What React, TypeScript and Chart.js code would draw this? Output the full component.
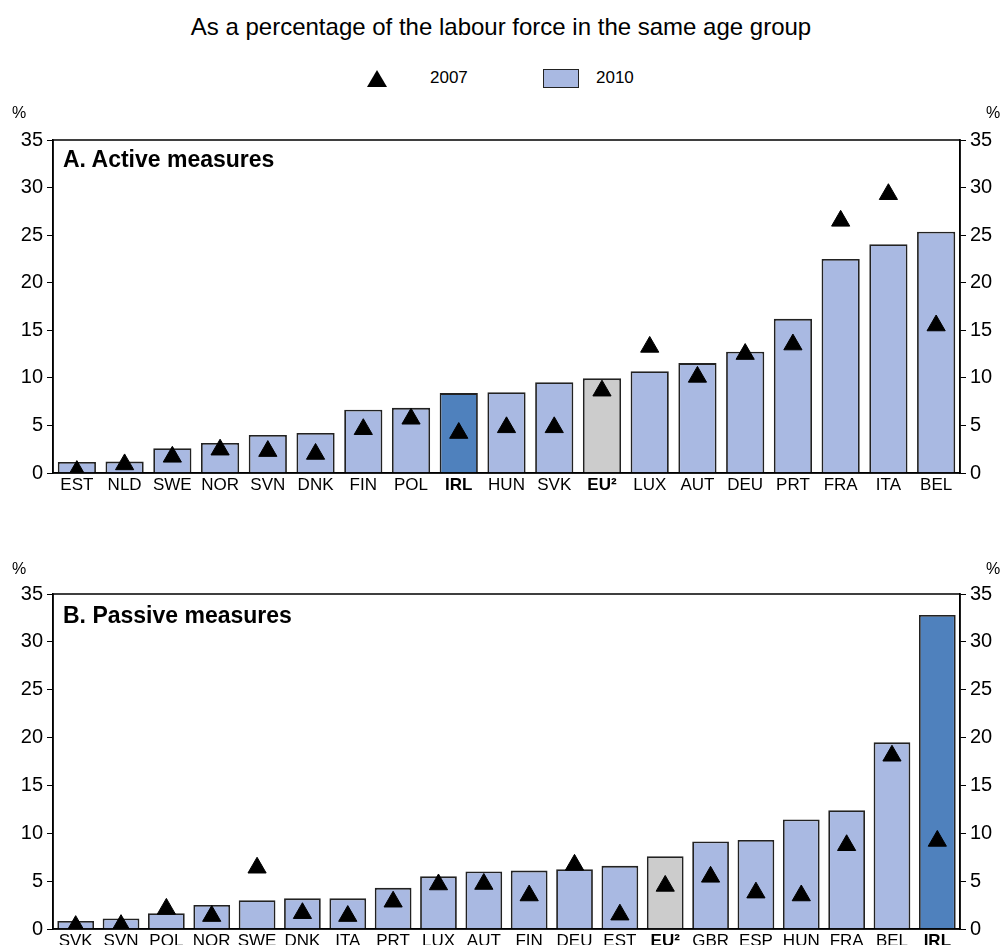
import { useEffect, useRef } from 'react';
import { Chart, registerables } from 'chart.js';

Chart.register(...registerables);

const activeLabels = ['EST', 'NLD', 'SWE', 'NOR', 'SVN', 'DNK', 'FIN', 'POL', 'IRL', 'HUN', 'SVK', 'EU²', 'LUX', 'AUT', 'DEU', 'PRT', 'FRA', 'ITA', 'BEL'];
const active2010 = [1.15, 1.2, 2.6, 3.15, 4.0, 4.2, 6.65, 6.85, 8.4, 8.5, 9.55, 9.95, 10.7, 11.55, 12.75, 16.2, 22.5, 24.05, 25.35];
const active2007 = [0.2, 0.9, 1.7, 2.45, 2.3, 2.0, 4.6, 5.7, 4.2, 4.8, 4.8, 8.65, 13.25, 10.1, 12.5, 13.5, 26.5, 29.3, 15.5];

const passiveLabels = ['SVK', 'SVN', 'POL', 'NOR', 'SWE', 'DNK', 'ITA', 'PRT', 'LUX', 'AUT', 'FIN', 'DEU', 'EST', 'EU²', 'GBR', 'ESP', 'HUN', 'FRA', 'BEL', 'IRL'];
const passive2010 = [0.84, 1.1, 1.64, 2.5, 3.0, 3.2, 3.2, 4.3, 5.5, 6.0, 6.1, 6.25, 6.6, 7.6, 9.15, 9.3, 11.45, 12.4, 19.5, 32.8];
const passive2007 = [0.3, 0.4, 2.1, 1.35, 6.4, 1.65, 1.35, 2.85, 4.65, 4.7, 3.5, 6.7, 1.5, 4.5, 5.45, 3.8, 3.5, 8.75, 18.1, 9.2];

const yTicks = [0, 5, 10, 15, 20, 25, 30, 35];
const boldLabels = ['IRL', 'EU²'];

const FONT = "Arial, 'Liberation Sans', sans-serif";

const barColour = (label: string) => {
    if (label === 'IRL') return '#4F81BD';
    if (label === 'EU²') return '#CCCCCC';
    return '#A9B9E2';
};

// box round the plot area
const framePlugin = {
    id: 'frame',
    afterDraw(chart: any) {
        const { ctx, chartArea } = chart;
        ctx.save();
        ctx.strokeStyle = '#000';
        ctx.lineWidth = 1.5;
        ctx.strokeRect(chartArea.left, chartArea.top, chartArea.right - chartArea.left, chartArea.bottom - chartArea.top);
        ctx.restore();
    },
};

const PanelChart = ({ labels, bars, markers, padTop, xHeight, barPct, height }: {
    labels: string[]; bars: number[]; markers: number[]; padTop: number; xHeight: number; barPct: number; height: number;
}) => {
    const chartRef = useRef<HTMLCanvasElement | null>(null);
    const chartInstance = useRef<Chart | null>(null);

    useEffect(() => {
        if (!chartRef.current) return;
        if (chartInstance.current) chartInstance.current.destroy();

        const yAxis = (position: 'left' | 'right', width: number) => ({
            type: 'linear' as const,
            position,
            min: 0,
            max: 35,
            afterBuildTicks: (s: any) => { s.ticks = yTicks.map((v) => ({ value: v })); },
            afterFit: (s: any) => { s.width = width; },
            grid: { display: true, drawOnChartArea: false, drawTicks: true, tickLength: 6, color: '#000', lineWidth: 1 },
            border: { display: true, color: '#000', width: 1.5 },
            ticks: { color: '#000', padding: 4, font: { family: FONT, size: 20 } },
        });

        chartInstance.current = new Chart(chartRef.current, {
            type: 'bar',
            data: {
                labels,
                datasets: [
                    {
                        type: 'line',
                        label: '2007',
                        data: markers,
                        showLine: false,
                        pointStyle: 'triangle',
                        pointRadius: 10.5,
                        pointBackgroundColor: '#000',
                        pointBorderColor: '#000',
                        pointBorderWidth: 1,
                        order: 0,
                    },
                    {
                        type: 'bar',
                        label: '2010',
                        data: bars,
                        backgroundColor: labels.map(barColour),
                        borderColor: '#222',
                        borderWidth: 1.8,
                        barPercentage: barPct,
                        categoryPercentage: 1,
                        order: 1,
                    },
                ] as any,
            },
            options: {
                animation: false,
                responsive: false,
                layout: { padding: { top: padTop, left: 0, right: 0, bottom: 0 } },
                plugins: { legend: { display: false }, tooltip: { enabled: false } },
                scales: {
                    x: {
                        afterFit: (s: any) => { s.height = xHeight; },
                        grid: { display: false, drawTicks: false, tickLength: 0 },
                        border: { display: true, color: '#000', width: 1.5 },
                        ticks: {
                            autoSkip: false,
                            maxRotation: 0,
                            padding: 2,
                            color: '#000',
                            font: (c: any) => ({
                                family: FONT,
                                size: 17,
                                weight: boldLabels.includes(labels[c.index]) ? 'bold' : 'normal',
                            }),
                        },
                    },
                    y: yAxis('left', 53),
                    y2: yAxis('right', 42),
                } as any,
            },
            plugins: [framePlugin],
        });

        return () => {
            if (chartInstance.current) {
                chartInstance.current.destroy();
                chartInstance.current = null;
            }
        };
    }, []);

    return <canvas ref={chartRef} width={1002} height={height}></canvas>;
};

const abs = (style: React.CSSProperties): React.CSSProperties => ({ position: 'absolute', whiteSpace: 'nowrap', ...style });

export default function App() {
    return (
        <div style={{ position: 'absolute', left: 0, top: 0, width: 1002, height: 945, background: '#fff', fontFamily: FONT, color: '#000', overflow: 'hidden' }}>
            <div style={abs({ left: 0, top: 13, width: 1002, textAlign: 'center', fontSize: 24, lineHeight: '28px' })}>
                As a percentage of the labour force in the same age group
            </div>

            {/* legend */}
            <div style={abs({ left: 367, top: 70, width: 0, height: 0, borderLeft: '10px solid transparent', borderRight: '10px solid transparent', borderBottom: '17px solid #000' })} />
            <div style={abs({ left: 430, top: 68, fontSize: 17, lineHeight: '20px' })}>2007</div>
            <div style={abs({ left: 543, top: 69, width: 34, height: 17, background: '#A9B9E2', border: '1.5px solid #222' })} />
            <div style={abs({ left: 596, top: 68, fontSize: 17, lineHeight: '20px' })}>2010</div>

            {/* panel A */}
            <div style={abs({ left: 0, top: 95, width: 1002, height: 405 })}>
                <PanelChart labels={activeLabels} bars={active2010} markers={active2007} padTop={45} xHeight={27} barPct={0.8} height={405} />
            </div>
            <div style={abs({ left: 12, top: 104, fontSize: 16 })}>%</div>
            <div style={abs({ left: 986, top: 104, fontSize: 16 })}>%</div>
            <div style={abs({ left: 63, top: 146, fontSize: 23, fontWeight: 'bold' })}>A. Active measures</div>

            {/* panel B */}
            <div style={abs({ left: 0, top: 550, width: 1002, height: 395 })}>
                <PanelChart labels={passiveLabels} bars={passive2010} markers={passive2007} padTop={44} xHeight={16} barPct={0.81} height={395} />
            </div>
            <div style={abs({ left: 12, top: 560, fontSize: 16 })}>%</div>
            <div style={abs({ left: 986, top: 560, fontSize: 16 })}>%</div>
            <div style={abs({ left: 63, top: 602, fontSize: 23, fontWeight: 'bold' })}>B. Passive measures</div>
        </div>
    );
}
